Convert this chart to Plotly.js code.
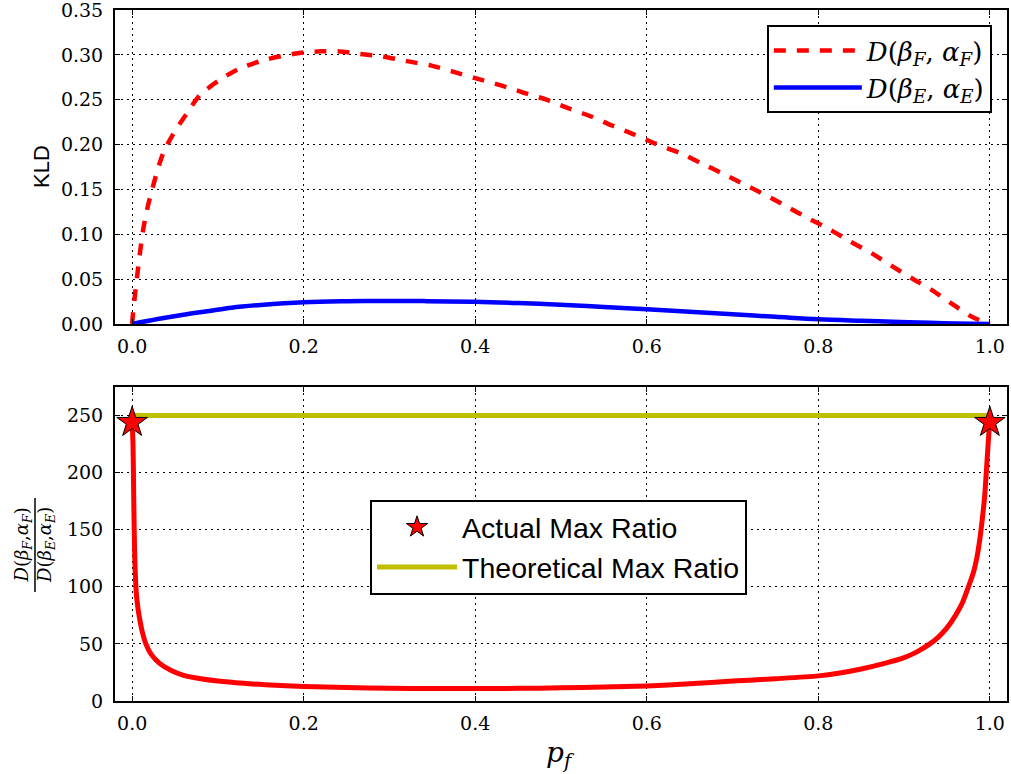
<!DOCTYPE html>
<html>
<head>
<meta charset="utf-8">
<script src="https://cdn.plot.ly/plotly-3.0.1.min.js"></script>
<style>html,body{margin:0;padding:0;background:#fff;}#chart{width:1011px;height:774px;}</style>
</head>
<body>
<div id="chart"></div>
<script>
// Top panel: KLD curves
var pfF = [0, 0.001, 0.0035, 0.007, 0.01, 0.013, 0.018, 0.025, 0.036, 0.048, 0.064, 0.079, 0.102, 0.126, 0.157, 0.195, 0.22, 0.24, 0.266, 0.293, 0.32, 0.349, 0.375, 0.4, 0.43, 0.456, 0.483, 0.51, 0.536, 0.56, 0.586, 0.61, 0.64, 0.664, 0.69, 0.715, 0.74, 0.763, 0.788, 0.814, 0.837, 0.862, 0.885, 0.909, 0.932, 0.955, 0.979, 1.0];
var klF  = [0, 0.012, 0.034, 0.063, 0.086, 0.106, 0.13, 0.156, 0.19, 0.212, 0.235, 0.255, 0.272, 0.285, 0.295, 0.302, 0.304, 0.304, 0.301, 0.298, 0.293, 0.288, 0.281, 0.274, 0.266, 0.258, 0.25, 0.24, 0.231, 0.221, 0.211, 0.201, 0.19, 0.179, 0.167, 0.155, 0.143, 0.131, 0.118, 0.105, 0.092, 0.079, 0.065, 0.051, 0.038, 0.023, 0.008, 0];
var pfE = [0, 0.03, 0.058, 0.09, 0.116, 0.15, 0.2, 0.25, 0.291, 0.34, 0.4, 0.45, 0.505, 0.55, 0.6, 0.65, 0.7, 0.75, 0.8, 0.85, 0.887, 0.93, 0.96, 1.0];
var klE = [0, 0.0055, 0.010, 0.0145, 0.0182, 0.0212, 0.0242, 0.0253, 0.0256, 0.0255, 0.0249, 0.0234, 0.0212, 0.019, 0.0164, 0.0136, 0.0108, 0.008, 0.0052, 0.0036, 0.0026, 0.0014, 0.0006, 0];

// Bottom panel: ratio curve
var pfR = [0, 0.001, 0.0018, 0.0025, 0.0035, 0.005, 0.007, 0.009, 0.012, 0.016, 0.022, 0.032, 0.045, 0.06, 0.08, 0.1, 0.13, 0.155, 0.2, 0.25, 0.3, 0.35, 0.4, 0.45, 0.5, 0.55, 0.6, 0.65, 0.7, 0.75, 0.8, 0.825, 0.85, 0.875, 0.9, 0.915, 0.93, 0.94, 0.95, 0.96, 0.968, 0.975, 0.981, 0.985, 0.988, 0.991, 0.994, 0.996, 0.998, 0.999, 1.0];
var ratio = [244, 225, 180, 145, 115, 93, 80, 71, 60, 50, 41, 33, 27, 22.5, 19.5, 17.5, 15.5, 14.3, 12.7, 11.8, 11.2, 10.9, 10.9, 11.1, 11.5, 12.2, 13.2, 15, 17.5, 19.5, 22, 24.5, 28, 32.5, 38, 43, 50, 56, 64, 75, 86, 100, 113, 126, 140, 158, 180, 202, 225, 236, 244];

var theoX = [0, 1];
var theoY = [250, 250];
var maxX = [0, 1];
var maxY = [244, 244];

var xTicks = [0, 0.2, 0.4, 0.6, 0.8, 1.0];
var xTickText = ['0.0', '0.2', '0.4', '0.6', '0.8', '1.0'];
var yTopTicks = [0, 0.05, 0.10, 0.15, 0.20, 0.25, 0.30, 0.35];
var yTopText = ['0.00', '0.05', '0.10', '0.15', '0.20', '0.25', '0.30', '0.35'];
var yBotTicks = [0, 50, 100, 150, 200, 250];
var yBotText = ['0', '50', '100', '150', '200', '250'];

var labelF = '<i>D</i>(<i>β</i><sub><i>F</i></sub>, <i>α</i><sub><i>F</i></sub>)';
var labelE = '<i>D</i>(<i>β</i><sub><i>E</i></sub>, <i>α</i><sub><i>E</i></sub>)';

var serif = 'DejaVu Serif, Liberation Serif, serif';
var sans = 'Liberation Sans, Arial, sans-serif';

var traces = [
  {x: pfF, y: klF, type: 'scatter', mode: 'lines', name: labelF,
   line: {shape: 'spline', smoothing: 0.8, color: '#ff0000', width: 4.5, dash: '12px,11px'}, xaxis: 'x', yaxis: 'y', legend: 'legend'},
  {x: pfE, y: klE, type: 'scatter', mode: 'lines', name: labelE, line: {shape: 'spline', color: '#0000ff', width: 4.5},
   xaxis: 'x', yaxis: 'y', legend: 'legend'},
  {x: pfR, y: ratio, type: 'scatter', mode: 'lines', name: 'ratio', showlegend: false,
   line: {shape: 'spline', smoothing: 0.8, color: '#ff0000', width: 5}, xaxis: 'x2', yaxis: 'y2'},
  {x: theoX, y: theoY, type: 'scatter', mode: 'lines', name: 'Theoretical Max Ratio',
   line: {color: '#bfbf00', width: 5}, xaxis: 'x2', yaxis: 'y2', legend: 'legend2', legendrank: 2},
  {x: maxX, y: maxY, type: 'scatter', mode: 'markers', name: 'Actual Max Ratio',
   marker: {symbol: 'star', size: 23, color: '#ff0000', line: {color: '#000', width: 1}},
   xaxis: 'x2', yaxis: 'y2', legend: 'legend2', legendrank: 1, cliponaxis: false}
];

function axisBase() {
  return {
    showline: true, linecolor: '#000', linewidth: 2, mirror: 'allticks',
    ticks: 'inside', ticklen: 5, tickwidth: 1, tickcolor: '#000',
    showgrid: true, gridcolor: '#000', gridwidth: 1, griddash: '2px,4px',
    zeroline: false, ticklabeloverflow: 'allow',
    tickfont: {family: serif, size: 19, color: '#000'}
  };
}

var xa = Object.assign(axisBase(), {domain: [0, 1], anchor: 'y', range: [-0.02, 1.02],
  tickmode: 'array', tickvals: xTicks, ticktext: xTickText, ticklabelstandoff: 4});
var xa2 = Object.assign(axisBase(), {domain: [0, 1], anchor: 'y2', range: [-0.02, 1.02],
  tickmode: 'array', tickvals: xTicks, ticktext: xTickText, ticklabelstandoff: 4});
var ya = Object.assign(axisBase(), {domain: [0.5456, 1], anchor: 'x', range: [0, 0.35001],
  tickmode: 'array', tickvals: yTopTicks, ticktext: yTopText, ticklabelstandoff: 6});
var ya2 = Object.assign(axisBase(), {domain: [0, 0.4544], anchor: 'x2', range: [0, 275],
  tickmode: 'array', tickvals: yBotTicks, ticktext: yBotText, ticklabelstandoff: 6});

var layout = {
  width: 1011, height: 774,
  margin: {l: 115, r: 4, t: 10, b: 73},
  paper_bgcolor: '#fff', plot_bgcolor: '#fff',
  font: {family: serif, size: 19, color: '#000'},
  xaxis: xa, yaxis: ya, xaxis2: xa2, yaxis2: ya2,
  showlegend: true,
  legend: {x: 0.983, y: 0.978, xanchor: 'right', yanchor: 'top', bgcolor: '#fff',
    bordercolor: '#000', borderwidth: 2, font: {family: serif, size: 26, color: '#000'},
    itemwidth: 88},
  legend2: {x: 0.2859, y: 0.2909, xanchor: 'left', yanchor: 'top', bgcolor: '#fff',
    bordercolor: '#000', borderwidth: 2, font: {family: sans, size: 28.5, color: '#000'},
    itemwidth: 80},
  annotations: [
    {text: 'KLD', xref: 'paper', yref: 'paper', x: -0.0818, y: 0.7728, showarrow: false,
     textangle: -90, font: {family: sans, size: 22, color: '#000'}, xanchor: 'center', yanchor: 'middle'},
    {text: '<i>D</i>(<i>β</i><sub><i>F</i></sub>,<i>α</i><sub><i>F</i></sub>)<br><i>D</i>(<i>β</i><sub><i>E</i></sub>,<i>α</i><sub><i>E</i></sub>)',
     xref: 'paper', yref: 'paper', x: -0.0897, y: 0.2258, showarrow: false,
     textangle: -90, font: {family: serif, size: 18, color: '#000'}, xanchor: 'center', yanchor: 'middle'},
    {text: '<i>p</i><sub><i>f</i></sub>', xref: 'paper', yref: 'paper', x: 0.4989, y: -0.078,
     showarrow: false, font: {family: serif, size: 28, color: '#000'}, xanchor: 'center', yanchor: 'middle'}
  ],
  shapes: [
    {type: 'line', xref: 'paper', yref: 'paper', x0: -0.0897, x1: -0.0897, y0: 0.1577, y1: 0.2938,
     line: {color: '#000', width: 1.5}}
  ]
};

Plotly.newPlot('chart', traces, layout, {displayModeBar: false, staticPlot: true});
</script>
</body>
</html>
